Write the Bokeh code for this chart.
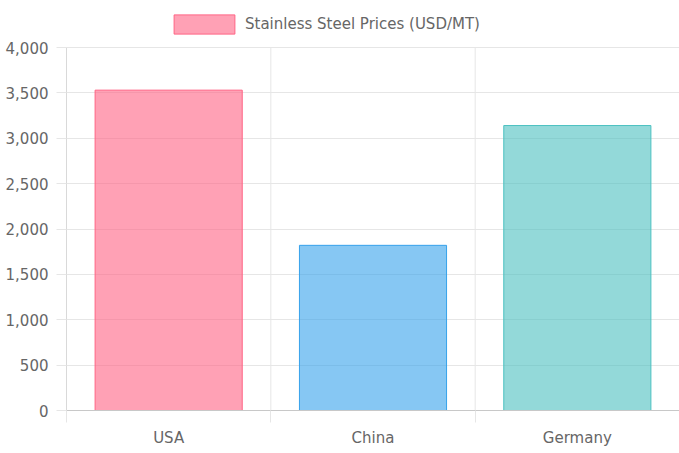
from bokeh.plotting import figure
from bokeh.models import (ColumnDataSource, FixedTicker, NumeralTickFormatter,
                          CustomJSTickFormatter, Legend, LegendItem, Range1d)
from bokeh.embed import file_html
from bokeh.resources import INLINE

# data
countries = ['USA', 'China', 'Germany']
prices = [3530, 1820, 3140]
fill_colors = ['rgba(255, 99, 132, 0.6)', 'rgba(54, 162, 235, 0.6)', 'rgba(75, 192, 192, 0.6)']
line_colors = ['rgb(255, 99, 132)', 'rgb(54, 162, 235)', 'rgb(75, 192, 192)']
y_ticks = [0, 500, 1000, 1500, 2000, 2500, 3000, 3500, 4000]

FONT = 'DejaVu Sans'
TEXT = '#666666'
GRID = '#e6e6e6'

positions = [i + 0.5 for i in range(len(countries))]
bounds = list(range(len(countries) + 1))
y_max = y_ticks[-1]

# plot area runs to the top of the canvas so the legend can live inside it;
# the axis scale still has y_max 47px below the top edge
frame_h = 410
y_top = y_max * frame_h / (frame_h - 47)

source = ColumnDataSource(dict(x=positions, top=prices, country=countries,
                               fill=fill_colors, line=line_colors))

p = figure(width=679, height=453,
           x_range=Range1d(0, len(countries)), y_range=Range1d(0, y_top),
           output_backend='svg', toolbar_location=None,
           min_border_left=66, min_border_right=0,
           min_border_top=0, min_border_bottom=43)
p.outline_line_color = None

# vertical grid lines between categories, stopping at the top tick
grid_x = bounds[:-1]
p.segment(x0=grid_x, y0=[0] * len(grid_x), x1=grid_x, y1=[y_max] * len(grid_x),
          line_color=GRID, line_width=1)

bars = p.vbar(x='x', top='top', width=0.72, bottom=0, source=source,
              fill_color='fill', line_color='line', line_width=1)

# y axis
p.yaxis.ticker = FixedTicker(ticks=y_ticks)
p.yaxis.bounds = (0, y_max)
p.yaxis.formatter = NumeralTickFormatter(format='0,0')
p.yaxis.major_label_text_font = FONT
p.yaxis.major_label_text_font_size = '15px'
p.yaxis.major_label_text_color = TEXT
p.yaxis.major_tick_out = 10
p.yaxis.major_tick_in = 0
p.yaxis.major_tick_line_color = GRID
p.yaxis.minor_tick_line_color = None
p.yaxis.axis_line_color = '#d9d9d9'
p.yaxis.major_label_standoff = 8

# x axis: labels at bar centres, ticks at category boundaries
p.xaxis.ticker = FixedTicker(ticks=positions, minor_ticks=bounds)
p.xaxis.formatter = CustomJSTickFormatter(args=dict(labels=countries),
                                          code="return labels[Math.floor(tick)] || ''")
p.xaxis.major_label_text_font = FONT
p.xaxis.major_label_text_font_size = '15px'
p.xaxis.major_label_text_color = TEXT
p.xaxis.major_tick_line_color = None
p.xaxis.major_tick_out = 0
p.xaxis.major_tick_in = 0
p.xaxis.minor_tick_out = 12
p.xaxis.minor_tick_in = 0
p.xaxis.minor_tick_line_color = GRID
p.xaxis.axis_line_color = '#c8c8c8'
p.xaxis.major_label_standoff = 6

p.xgrid.grid_line_color = None
p.ygrid.grid_line_color = GRID

# bokeh draws an area legend glyph at 80% of its box, hence the larger sizes
legend = Legend(items=[LegendItem(label='Stainless Steel Prices (USD/MT)',
                                  renderers=[bars], index=0)],
                location=(100, frame_h - 12 - 24), orientation='horizontal',
                glyph_width=76, glyph_height=24, label_height=24, label_standoff=3,
                label_text_font=FONT, label_text_font_size='15px',
                label_text_color=TEXT, padding=0, margin=0,
                border_line_color=None, background_fill_alpha=0)
p.add_layout(legend)

open('out.html', 'w').write(file_html(p, INLINE))
